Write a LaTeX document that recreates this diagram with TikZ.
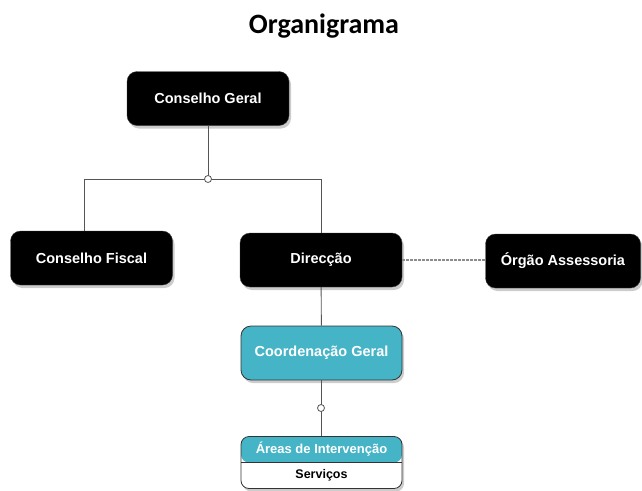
\documentclass[tikz,border=0pt]{standalone}
\usepackage{fontspec}
\setmainfont{Liberation Sans}
\newfontfamily\titlefont{Carlito}
\usetikzlibrary{positioning}
\usetikzlibrary{shadows}
\usetikzlibrary{calc}

\definecolor{coordteal}{RGB}{69,180,199}
\definecolor{linegray}{RGB}{85,85,85}

\begin{document}
\begin{tikzpicture}[x=1pt, y=-1pt,
    boxshadow/.style={drop shadow={shadow xshift=2pt, shadow yshift=-3pt, opacity=0.4}},
    darkbox/.style={draw=black!75, fill=black, rounded corners=10pt, minimum width=162pt,
      minimum height=54pt, text=white, font=\fontsize{14.5}{17}\selectfont\bfseries, boxshadow},
    lightbox/.style={draw=black!80, line width=0.8pt, fill=coordteal, rounded corners=10pt,
      minimum width=161pt, minimum height=54pt, text=white, font=\fontsize{14.5}{17}\selectfont\bfseries, boxshadow},
    listbox/.style={draw=black!80, line width=0.8pt, fill=white, rounded corners=8pt,
      minimum width=161pt, minimum height=52pt, boxshadow,
      path picture={\fill[coordteal] (path picture bounding box.north west) rectangle (path picture bounding box.east);
        \draw[black!80, line width=0.8pt] (path picture bounding box.west) -- (path picture bounding box.east);}},
    conn/.style={draw=linegray, line width=0.9pt},
    assess/.style={draw=gray!90, line width=1.5pt, dash pattern=on 2.5pt off 1.5pt},
    joint/.style={circle, draw=linegray, fill=white, line width=0.8pt, inner sep=0pt, minimum size=7pt}]
  \useasboundingbox (0,0) rectangle (642,490);

  \node[font=\titlefont\bfseries\fontsize{28}{34}\selectfont, anchor=base] (title) at (324,33) {Organigrama};

  \node[darkbox] (cg) at (208,98.5) {Conselho Geral};
  \node[darkbox] (cf) at (91.5,258) {Conselho Fiscal};
  \node[darkbox] (dir) at (321,260) {Direcção};
  \node[darkbox, minimum width=155pt] (oa) at (563,261) {Órgão Assessoria};
  \node[lightbox] (coord) at (321.5,353) {Coordenação Geral};
  \node[listbox] (areas) at (321.5,462.5) {};
  \node[text=white, font=\fontsize{13}{15}\selectfont\bfseries] (areastitle) at ($(areas.north)!0.25!(areas.south)$) {Áreas de Intervenção};
  \node[font=\fontsize{12.5}{15}\selectfont\bfseries] (servicos) at ($(areas.north)!0.75!(areas.south)$) {Serviços};

  \coordinate (top) at (208,179);
  \coordinate (cfturn) at (84,179);
  \coordinate (dirturn) at (321,179);
  \coordinate (mid) at (321,408);

  \draw[conn] (cg) -- (top);
  \draw[conn] (cfturn) -- (dirturn);
  \draw[conn] (cfturn) -- (cfturn |- cf.north);
  \draw[conn] (dirturn) -- (dir);
  \draw[conn] (dir) -- (coord);
  \draw[conn] (coord) -- (areas);
  \draw[assess] (dir.east) -- (dir.east -| oa.west); % dotted link to advisory body

  \node[joint] (j1) at (top) {};
  \node[joint] (j2) at (mid) {};
\end{tikzpicture}
\end{document}
